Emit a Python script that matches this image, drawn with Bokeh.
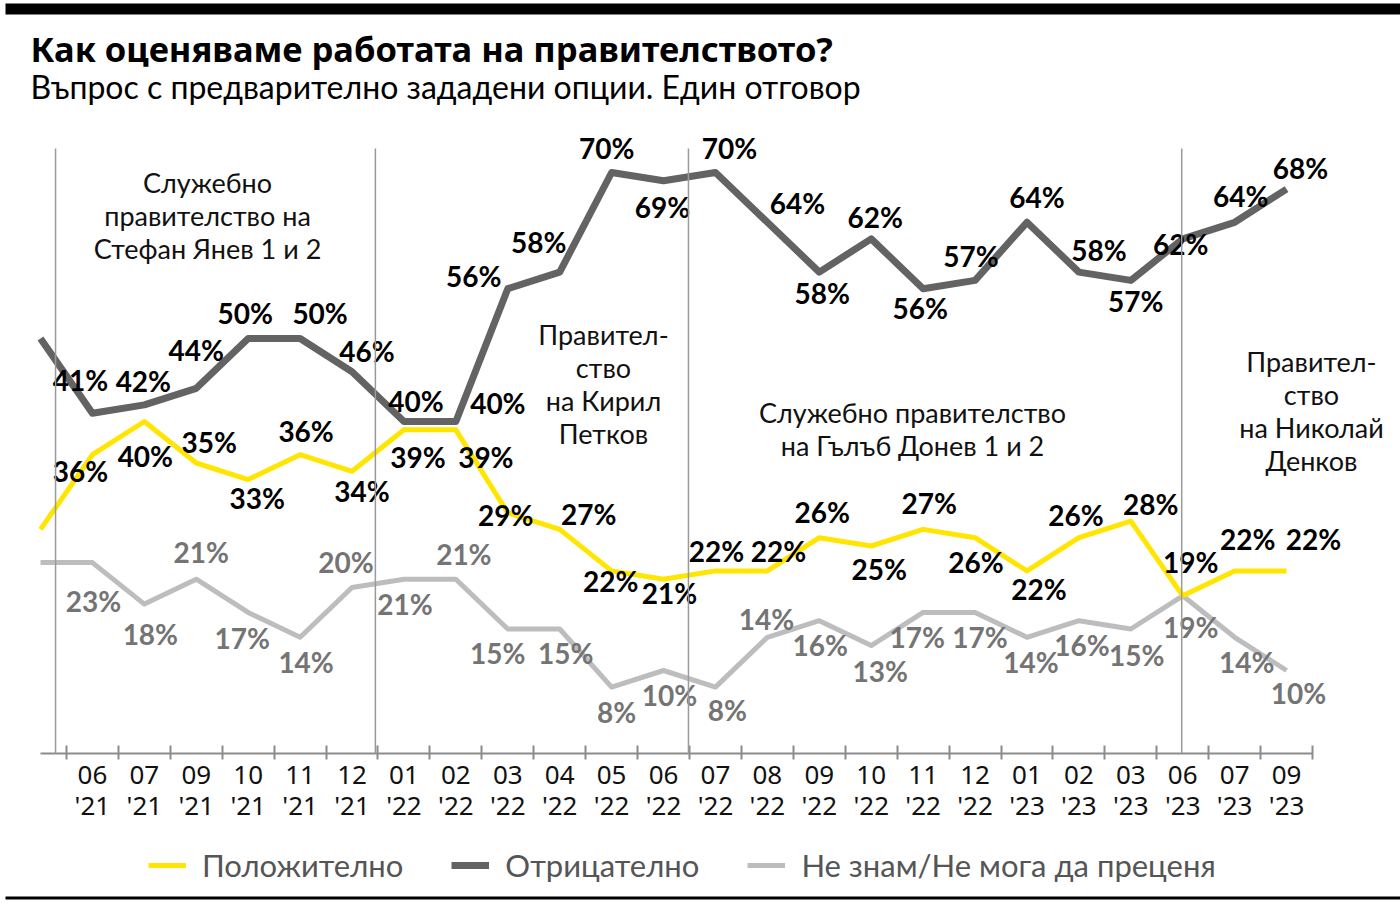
from bokeh.plotting import figure
from bokeh.models import (Range1d, FixedTicker, Label, LabelSet, ColumnDataSource,
                          Legend, LegendItem, BoxAnnotation)
from bokeh.embed import file_html
from bokeh.resources import INLINE
from bokeh.core.properties import value

# ---------------- data ----------------
tick_labels = ["", "06\n'21", "07\n'21", "09\n'21", "10\n'21", "11\n'21", "12\n'21",
               "01\n'22", "02\n'22", "03\n'22", "04\n'22", "05\n'22", "06\n'22",
               "07\n'22", "08\n'22", "09\n'22", "10\n'22", "11\n'22", "12\n'22",
               "01\n'23", "02\n'23", "03\n'23", "06\n'23", "07\n'23", "09\n'23"]
positive = [27, 36, 40, 35, 33, 36, 34, 39, 39, 29, 27, 22, 21, 22, 22, 26, 25, 27, 26, 22, 26, 28, 19, 22, 22]
negative = [50, 41, 42, 44, 50, 50, 46, 40, 40, 56, 58, 70, 69, 70, 64, 58, 62, 56, 57, 64, 58, 57, 62, 64, 68]
dont_know = [23, 23, 18, 21, 17, 14, 20, 21, 21, 15, 15, 8, 10, 8, 14, 16, 13, 17, 17, 14, 16, 15, 19, 14, 10]
series_names = ["Положително", "Отрицателно", "Не знам/Не мога да преценя"]
gov_change_x = [0.29, 6.45, 12.48, 21.98]
gov_names = ["Служебно\nправителство на\nСтефан Янев 1 и 2",
             "Правител-\nство\nна Кирил\nПетков",
             "Служебно правителство\nна Гълъб Донев 1 и 2",
             "Правител-\nство\nна Николай\nДенков"]
title_text = "Как оценяваме работата на правителството?"
subtitle_text = "Въпрос с предварително зададени опции. Един отговор"

# ---------------- label offsets (pixels) ----------------
neg_dx = [0, -12, -1, 0, -3, 20, 15, 12, 42, -34, -21, -5, -1, 14, 30, 3, 4, -3, -4, 10, 20, 5, -2, 6, 14]
neg_dy = [0, 33, 24, 38, 26, 26, 21, 21, 19, 13, 30, 25, -26, 25, 19, -21, 22, -19, 24, 25, 22, -21, -5, 26, 21]
pos_dx = [0, -12, 1, 13, 9, 6, 10, 14, 30, -2, 29, -1, 6, 1, 11, 3, 8, 6, 1, 12, -3, 20, 8, 13, 27]
pos_dy = [0, -16, -34, 21, -18, 24, -20, -27, -27, -2, 15, -10, -14, 20, 20, 26, -23, 26, -24, -18, 23, 17, 34, 32, 32]
dk_dx = [0, 1, 6, 5, -6, 6, -6, 1, 8, -10, 6, 5, 6, 12, -1, 1, 9, -6, 5, 4, 3, 6, 8, 12, 12]
dk_dy = [0, -38, -30, 27, -26, -25, 26, -25, 25, -24, -24, -25, -24, -23, 18, -24, -25, -25, -25, -25, -24, -26, -31, -25, -22]

YELLOW = "#FFE500"
DARK = "#636363"
LIGHT = "#BDBDC0"
LABEL_GRAY = "#747474"
FONT = "Lato"

x = list(range(len(tick_labels)))
PX_PER_X = 51.92
PX_PER_Y = 8.3
W, H = 1400, 910
ZERO_PX = 753          # page row of the zero line
x_start = -40 / PX_PER_X
y_start = -(H - ZERO_PX) / PX_PER_Y
y_end = ZERO_PX / PX_PER_Y

def sy(page_y):
    """page row -> screen units measured from the frame bottom"""
    return H - page_y

p = figure(frame_width=W, frame_height=H,
           x_range=Range1d(x_start, x_start + W / PX_PER_X),
           y_range=Range1d(y_start, y_end),
           y_axis_location=None, output_backend="svg", toolbar_location=None,
           min_border_left=0, min_border_right=0, min_border_top=0, min_border_bottom=0)
p.outline_line_color = None
p.xgrid.visible = False
p.ygrid.visible = False
p.background_fill_color = "white"
p.border_fill_color = "white"

# top black bar and bottom rule
p.add_layout(BoxAnnotation(top=sy(3), bottom=sy(14), top_units="screen", bottom_units="screen",
                           left=5, left_units="screen",
                           fill_color="black", fill_alpha=1, line_color=None))
p.add_layout(BoxAnnotation(top=sy(896), bottom=sy(899), top_units="screen", bottom_units="screen",
                           left=5, left_units="screen",
                           fill_color="black", fill_alpha=1, line_color=None))

# lines
r_dk = p.line(x, dont_know, line_color=LIGHT, line_width=5, line_join="round")
r_pos = p.line(x, positive, line_color=YELLOW, line_width=5, line_join="round")
r_neg = p.line(x, negative, line_color=DARK, line_width=7, line_join="round")

# government change lines
p.segment(x0=gov_change_x, y0=[0] * 4, x1=gov_change_x, y1=[72.9] * 4,
          line_color="#9a9a9a", line_width=1.5, level="overlay")

def labels(vals, dx, dy, color):
    src = ColumnDataSource(dict(x=x[1:], y=vals[1:], t=[f"{v}%" for v in vals[1:]],
                                dx=dx[1:], dy=dy[1:]))
    return LabelSet(x="x", y="y", text="t", x_offset="dx", y_offset="dy", source=src,
                    text_align="center", text_baseline="middle",
                    text_font=value(FONT), text_font_style="bold",
                    text_font_size=value("28px"), text_color=color)

p.add_layout(labels(dont_know, dk_dx, dk_dy, LABEL_GRAY))
p.add_layout(labels(positive, pos_dx, pos_dy, "black"))
p.add_layout(labels(negative, neg_dx, neg_dy, "black"))

# government names
gov_pos = [(207, 215), (603, 383), (912, 428), (1311, 410)]
for name, (gx, gy) in zip(gov_names, gov_pos):
    p.add_layout(Label(x=gx, y=sy(gy), x_units="screen", y_units="screen", text=name,
                       text_align="center", text_baseline="middle", text_font=FONT,
                       text_font_size="27px", text_color="#111", text_line_height=1.0))

# titles
p.add_layout(Label(x=30, y=sy(48), x_units="screen", y_units="screen", text=title_text,
                   text_font="Noto Sans", text_font_style="bold", text_font_size="34.5px",
                   text_baseline="middle", text_color="black"))
p.add_layout(Label(x=30, y=sy(86), x_units="screen", y_units="screen", text=subtitle_text,
                   text_font=FONT, text_font_size="32px",
                   text_baseline="middle", text_color="black"))

# x axis, drawn at the zero line inside the frame
ax = p.xaxis[0]
ax.fixed_location = 0
ax.ticker = FixedTicker(ticks=x[1:], minor_ticks=[i + 0.5 for i in range(len(x))])
ax.bounds = (0, len(x) - 0.5)
ax.major_label_overrides = {i: lab for i, lab in zip(x, tick_labels) if lab}
ax.major_tick_in = 0
ax.major_tick_out = 0
ax.minor_tick_in = 8
ax.minor_tick_out = 6
ax.minor_tick_line_color = "#8c8c8c"
ax.minor_tick_line_width = 2
ax.axis_line_color = "#8c8c8c"
ax.axis_line_width = 2
ax.major_label_text_font = "Noto Sans"
ax.major_label_text_font_size = "26px"
ax.major_label_text_color = "#111"
ax.major_label_text_line_height = 0.88
ax.major_label_standoff = -4

# legend
legend = Legend(items=[LegendItem(label=series_names[0], renderers=[r_pos]),
                       LegendItem(label=series_names[1], renderers=[r_neg]),
                       LegendItem(label=series_names[2], renderers=[r_dk])],
                orientation="horizontal", location=(148, sy(884)),
                label_text_font=FONT, label_text_font_size="31px", label_text_color="#555",
                glyph_width=38, label_standoff=16, spacing=48, border_line_color=None,
                background_fill_alpha=0, margin=0, padding=4)
p.add_layout(legend)

open("out.html", "w").write(file_html(p, INLINE))
